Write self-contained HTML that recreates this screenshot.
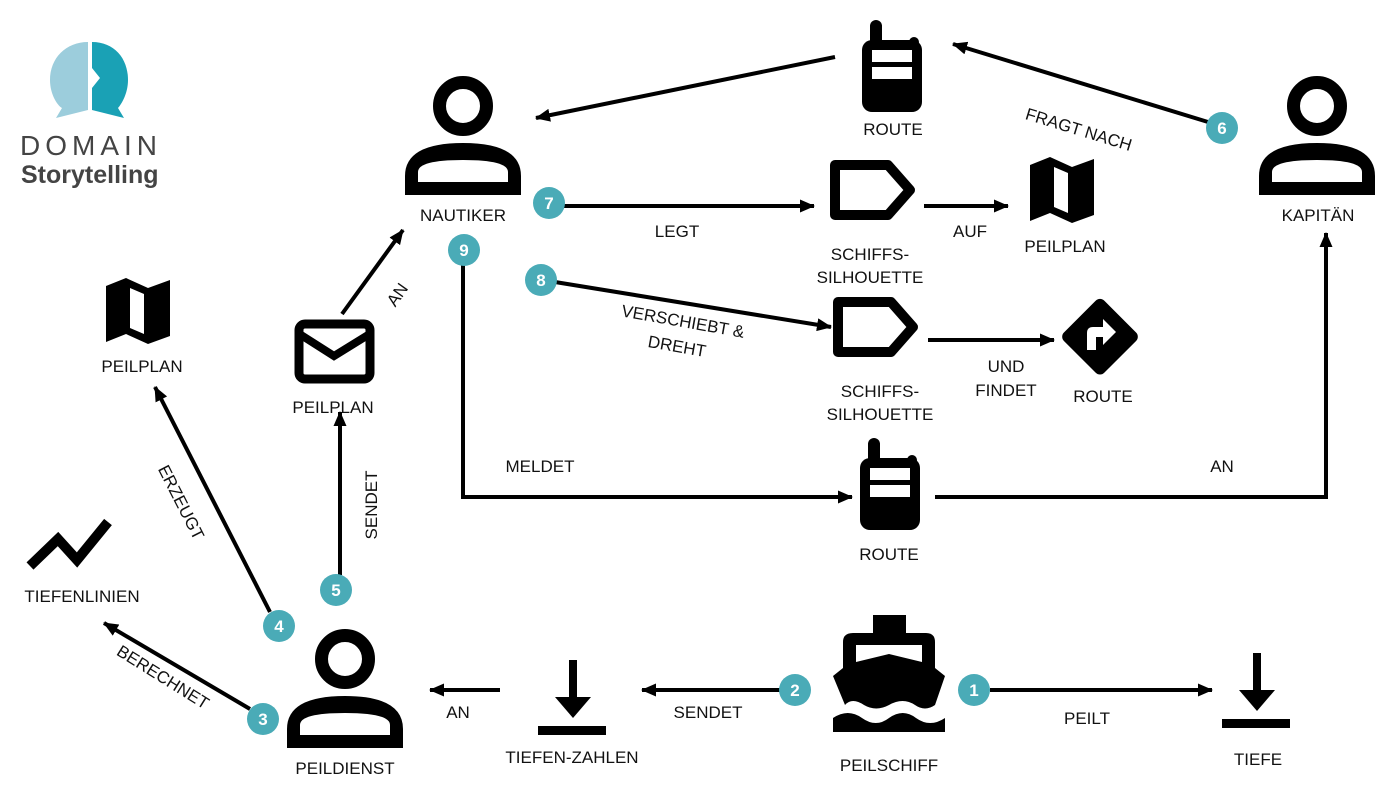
<!DOCTYPE html>
<html><head><meta charset="utf-8"><style>
html,body{margin:0;padding:0;background:#fff;}
svg{display:block}
text{font-family:"Liberation Sans",sans-serif;font-size:17px;fill:#111;}
.b text{font-weight:bold;fill:#fff;font-size:17px}
</style></head><body>
<svg width="1400" height="795" viewBox="0 0 1400 795" xmlns="http://www.w3.org/2000/svg">
<defs>
<marker id="ah" markerWidth="15" markerHeight="13" refX="14" refY="6.5" orient="auto" markerUnits="userSpaceOnUse" viewBox="0 0 15 13">
<path d="M0,0 L15,6.5 L0,13 Z" fill="#000"/></marker>
<g id="person">
<circle cx="0" cy="0" r="23.5" fill="none" stroke="#000" stroke-width="13"/>
<path fill-rule="evenodd" fill="#000" d="M-58,89 L-58,70 Q-58,37 0,37 Q58,37 58,70 L58,89 Z M-45,76 L-45,66 Q-45,54 0,54 Q45,54 45,66 L45,76 Z"/>
</g>
<g id="radio">
<rect x="8" y="0" width="12" height="30" rx="6" fill="#000"/>
<rect x="0" y="20" width="60" height="72" rx="10" fill="#000"/>
<circle cx="52" cy="22" r="5" fill="#000"/>
<rect x="10" y="30" width="40" height="12" fill="#fff"/>
<rect x="10" y="47" width="40" height="12" fill="#fff"/>
</g>
<g id="map">
<path fill="#000" d="M0,8 L20,0 L42,10 L64,2 L64,58 L42,66 L20,56 L0,64 Z"/>
<path fill="#fff" d="M24,10 L38,16 L38,56 L24,50 Z"/>
</g>
<g id="tag">
<path fill="none" stroke="#000" stroke-width="10" stroke-linejoin="round" d="M5,5 L58,5 L80,30 L58,55 L5,55 Z"/>
</g>
<g id="depth">
<rect x="31" y="0" width="8" height="38" fill="#000"/>
<path d="M17,37 L53,37 L35,58 Z" fill="#000"/>
<rect x="0" y="66" width="68" height="9" fill="#000"/>
</g>
</defs>

<!-- logo -->
<path d="M88,42 C66,42 50,58 50,80 C50,95 58,106 62,108 L56,118 L88,110 Z" fill="#9ccddc"/>
<path d="M92,42 C114,42 128,58 128,80 C128,95 120,106 118,108 L124,118 L92,110 L92,88 L100,78 L92,68 Z" fill="#1aa1b5"/>
<text x="20" y="155" style="font-size:28px;letter-spacing:5px;fill:#444">DOMAIN</text>
<text x="21" y="183" style="font-size:25px;font-weight:bold;fill:#444">Storytelling</text>

<!-- persons -->
<use href="#person" x="463" y="106"/>
<use href="#person" x="1317" y="106"/>
<use href="#person" x="345" y="659"/>
<text x="463" y="221" text-anchor="middle">NAUTIKER</text>
<text x="1318" y="221" text-anchor="middle">KAPITÄN</text>
<text x="345" y="774" text-anchor="middle">PEILDIENST</text>

<!-- radios -->
<use href="#radio" x="862" y="20"/>
<text x="893" y="135" text-anchor="middle">ROUTE</text>
<use href="#radio" x="860" y="438"/>
<text x="889" y="560" text-anchor="middle">ROUTE</text>

<!-- maps -->
<use href="#map" x="1030" y="157"/>
<text x="1065" y="252" text-anchor="middle">PEILPLAN</text>
<use href="#map" x="106" y="278"/>
<text x="142" y="372" text-anchor="middle">PEILPLAN</text>

<!-- tags -->
<use href="#tag" x="830" y="160"/>
<text x="870" y="260" text-anchor="middle">SCHIFFS-</text>
<text x="870" y="283" text-anchor="middle">SILHOUETTE</text>
<use href="#tag" x="833" y="297"/>
<text x="880" y="397" text-anchor="middle">SCHIFFS-</text>
<text x="880" y="420" text-anchor="middle">SILHOUETTE</text>

<!-- route sign -->
<rect x="1072" y="308" width="57" height="57" rx="6" transform="rotate(45 1100 336)" fill="#000"/>
<path d="M1087,350 L1087,333 Q1087,327 1093,327 L1103,327 L1103,319 L1116,332 L1103,345 L1103,337 L1096,337 L1096,350 Z" fill="#fff"/>
<text x="1103" y="402" text-anchor="middle">ROUTE</text>

<!-- envelope -->
<rect x="299" y="324" width="71" height="55" rx="6" fill="none" stroke="#000" stroke-width="9"/>
<path d="M301,335 L334,356 L368,335" fill="none" stroke="#000" stroke-width="8"/>
<text x="333" y="413" text-anchor="middle">PEILPLAN</text>

<!-- tiefenlinien -->
<path d="M30,566 L58,539 L77,560 L108,522" fill="none" stroke="#000" stroke-width="10"/>
<text x="82" y="602" text-anchor="middle">TIEFENLINIEN</text>

<!-- depth -->
<use href="#depth" x="538" y="660"/>
<text x="572" y="763" text-anchor="middle">TIEFEN-ZAHLEN</text>
<use href="#depth" x="1222" y="653"/>
<text x="1258" y="765" text-anchor="middle">TIEFE</text>

<!-- ship -->
<g fill="#000">
<rect x="873" y="615" width="33" height="18" />
<path fill-rule="evenodd" d="M853,633 L926,633 Q935,633 935,642 L935,668 L945,676 L935,705 Q925,712 915,705 Q903,697 889,705 Q876,712 864,705 Q852,697 845,705 L833,676 L843,668 L843,642 Q843,633 853,633 Z M856,645 L856,662 L889,654 L922,662 L922,645 Z"/>
<path d="M833,718 Q848,708 862,718 Q876,728 889,718 Q903,708 916,718 Q930,728 945,718 L945,732 L833,732 Z" fill="#000"/>
</g>
<text x="889" y="771" text-anchor="middle">PEILSCHIFF</text>

<!-- arrows -->
<g stroke="#000" stroke-width="4" fill="none" marker-end="url(#ah)">
<line x1="990" y1="690" x2="1212" y2="690"/>
<line x1="780" y1="690" x2="642" y2="690"/>
<line x1="500" y1="690" x2="430" y2="690"/>
<line x1="250" y1="709" x2="104" y2="623"/>
<line x1="270" y1="612" x2="155" y2="387"/>
<line x1="340" y1="575" x2="340" y2="412"/>
<line x1="342" y1="314" x2="403" y2="230"/>
<line x1="563" y1="206" x2="814" y2="206"/>
<line x1="924" y1="206" x2="1008" y2="206"/>
<line x1="555" y1="282" x2="831" y2="327"/>
<line x1="928" y1="340" x2="1054" y2="340"/>
<line x1="1208" y1="122" x2="953" y2="44"/>
<line x1="835" y1="57" x2="536" y2="118"/>
<polyline points="935,497 1326,497 1326,233"/>
<polyline points="463,265 463,497 852,497"/>
</g>

<!-- labels -->
<text x="1087" y="724" text-anchor="middle">PEILT</text>
<text x="708" y="718" text-anchor="middle">SENDET</text>
<text x="458" y="718" text-anchor="middle">AN</text>
<text x="677" y="237" text-anchor="middle">LEGT</text>
<text x="970" y="237" text-anchor="middle">AUF</text>
<text x="1006" y="372" text-anchor="middle">UND</text>
<text x="1006" y="396" text-anchor="middle">FINDET</text>
<text x="540" y="472" text-anchor="middle">MELDET</text>
<text x="1222" y="472" text-anchor="middle">AN</text>
<text transform="translate(1077,135) rotate(17)" text-anchor="middle">FRAGT NACH</text>
<text transform="translate(682,327) rotate(10)" text-anchor="middle">VERSCHIEBT &amp;</text>
<text transform="translate(676,352) rotate(10)" text-anchor="middle">DREHT</text>
<text transform="translate(402,298) rotate(-55)" text-anchor="middle">AN</text>
<text transform="translate(377,505) rotate(-90)" text-anchor="middle">SENDET</text>
<text transform="translate(176,505) rotate(63)" text-anchor="middle">ERZEUGT</text>
<text transform="translate(160,682) rotate(32)" text-anchor="middle">BERECHNET</text>

<!-- badges -->
<g class="b">
<circle cx="974" cy="690" r="16" fill="#4aabb7"/><text x="974" y="696" text-anchor="middle">1</text>
<circle cx="795" cy="690" r="16" fill="#4aabb7"/><text x="795" y="696" text-anchor="middle">2</text>
<circle cx="263" cy="719" r="16" fill="#4aabb7"/><text x="263" y="725" text-anchor="middle">3</text>
<circle cx="279" cy="626" r="16" fill="#4aabb7"/><text x="279" y="632" text-anchor="middle">4</text>
<circle cx="336" cy="590" r="16" fill="#4aabb7"/><text x="336" y="596" text-anchor="middle">5</text>
<circle cx="1222" cy="128" r="16" fill="#4aabb7"/><text x="1222" y="134" text-anchor="middle">6</text>
<circle cx="549" cy="203" r="16" fill="#4aabb7"/><text x="549" y="209" text-anchor="middle">7</text>
<circle cx="541" cy="280" r="16" fill="#4aabb7"/><text x="541" y="286" text-anchor="middle">8</text>
<circle cx="464" cy="250" r="16" fill="#4aabb7"/><text x="464" y="256" text-anchor="middle">9</text>
</g>
</svg>
</body></html>
